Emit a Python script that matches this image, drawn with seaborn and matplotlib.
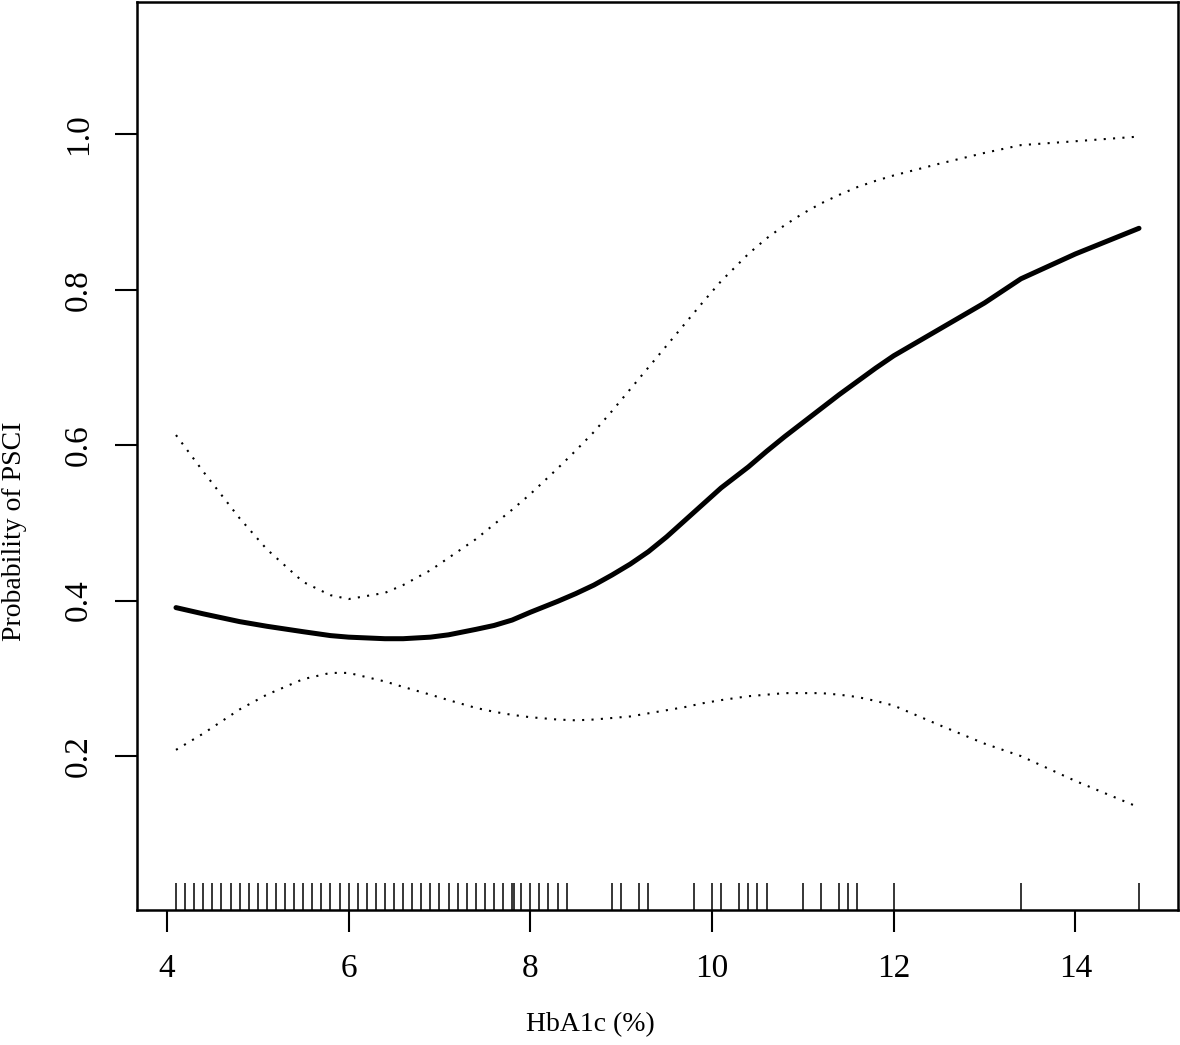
import matplotlib
matplotlib.use("Agg")
import matplotlib.pyplot as plt
import pandas as pd
import numpy as np
import seaborn as sns


# fitted curve and 95% CI
hba1c = [4.1, 4.4, 4.8, 5.1, 5.5, 5.8, 6.0, 6.4, 6.6, 6.9, 7.1, 7.4, 7.6, 7.8,
         8.0, 8.3, 8.5, 8.7, 8.9, 9.1, 9.3, 9.5, 9.7, 9.9, 10.1, 10.4, 10.6,
         10.8, 11.0, 11.2, 11.4, 11.6, 11.8, 12.0, 12.5, 13.0, 13.4, 14.0, 14.7]
prob = [0.391, 0.383, 0.373, 0.367, 0.360, 0.355, 0.353, 0.351, 0.351, 0.353,
        0.356, 0.363, 0.368, 0.375, 0.385, 0.399, 0.409, 0.420, 0.433, 0.447,
        0.463, 0.482, 0.503, 0.524, 0.545, 0.572, 0.592, 0.611, 0.629, 0.647,
        0.665, 0.682, 0.699, 0.715, 0.749, 0.783, 0.814, 0.846, 0.879]
upper = [0.613, 0.566, 0.506, 0.466, 0.424, 0.407, 0.402, 0.410, 0.420, 0.439,
         0.455, 0.479, 0.498, 0.517, 0.537, 0.570, 0.593, 0.617, 0.644, 0.672,
         0.700, 0.728, 0.756, 0.784, 0.811, 0.846, 0.866, 0.883, 0.898, 0.911,
         0.922, 0.932, 0.940, 0.947, 0.962, 0.976, 0.986, 0.991, 0.997]
lower = [0.208, 0.229, 0.260, 0.279, 0.299, 0.307, 0.307, 0.296, 0.289, 0.279,
         0.272, 0.262, 0.257, 0.253, 0.250, 0.247, 0.246, 0.247, 0.249, 0.251,
         0.255, 0.259, 0.263, 0.268, 0.272, 0.277, 0.279, 0.281, 0.281, 0.281,
         0.279, 0.276, 0.271, 0.265, 0.240, 0.216, 0.200, 0.168, 0.134]

# observed HbA1c values (rug)
rug_values = [4.1, 4.2, 4.3, 4.4, 4.5, 4.6, 4.7, 4.8, 4.9, 5.0, 5.1, 5.2, 5.3,
              5.4, 5.5, 5.6, 5.7, 5.8, 5.9, 6.0, 6.1, 6.2, 6.3, 6.4, 6.5, 6.6,
              6.7, 6.8, 6.9, 7.0, 7.1, 7.2, 7.3, 7.4, 7.5, 7.6, 7.7, 7.8, 7.82,
              7.9, 8.0, 8.1, 8.2, 8.3, 8.4, 8.9, 9.0, 9.2, 9.3, 9.8, 10.0, 10.1,
              10.3, 10.4, 10.5, 10.6, 11.0, 11.2, 11.4, 11.5, 11.6, 12.0, 13.4, 14.7]

x_ticks = [4, 6, 8, 10, 12, 14]
y_ticks = [0.2, 0.4, 0.6, 0.8, 1.0]
y_tick_labels = ["0.2", "0.4", "0.6", "0.8", "1.0"]

df = pd.DataFrame({"hba1c": hba1c, "prob": prob, "upper": upper, "lower": lower})
rug = pd.DataFrame({"hba1c": rug_values})

sns.set_style("ticks")
plt.rcParams["font.family"] = ["Liberation Serif", "DejaVu Serif"]
plt.rcParams["text.color"] = "black"
plt.rcParams["xtick.color"] = "black"
plt.rcParams["ytick.color"] = "black"
plt.rcParams["axes.edgecolor"] = "black"

fig = plt.figure(figsize=(11.8, 10.45), dpi=100)
ax = fig.add_axes([0.1165, 0.1292, 0.8814, 0.8688])

sns.lineplot(data=df, x="hba1c", y="prob", ax=ax, color="black", linewidth=3.6,
             sort=False, estimator=None)
for col in ["upper", "lower"]:
    sns.lineplot(data=df, x="hba1c", y=col, ax=ax, color="black", linewidth=1.5,
                 linestyle=(0, (1, 3.5)), sort=False, estimator=None)
sns.rugplot(data=rug, x="hba1c", ax=ax, height=0.03, color="black", linewidth=1.1)

ax.set_xlim(3.676, 15.124)
ax.set_ylim(0.002, 1.17)
ax.set_xticks(x_ticks)
ax.set_xticklabels([str(t) for t in x_ticks], fontsize=24, color="black")
ax.set_yticks(y_ticks)
ax.set_yticklabels(y_tick_labels, fontsize=24, rotation=90, va="center", color="black")
ax.tick_params(axis="both", direction="out", length=15.5, width=1.5, color="black")
ax.tick_params(axis="x", pad=16)
ax.tick_params(axis="y", pad=16)

for s in ax.spines.values():
    s.set_visible(True)
    s.set_linewidth(1.8)
    s.set_color("black")

ax.set_xlabel("")
ax.set_ylabel("")
fig.text(590 / 1180, 1 - 1025 / 1045, "HbA1c (%)", fontsize=20, ha="center",
         va="center", color="black")
fig.text(15 / 1180, 1 - 531 / 1045, "Probability of PSCI", fontsize=20, rotation=90,
         ha="center", va="center", color="black")

fig.savefig("out.png", dpi=100)
